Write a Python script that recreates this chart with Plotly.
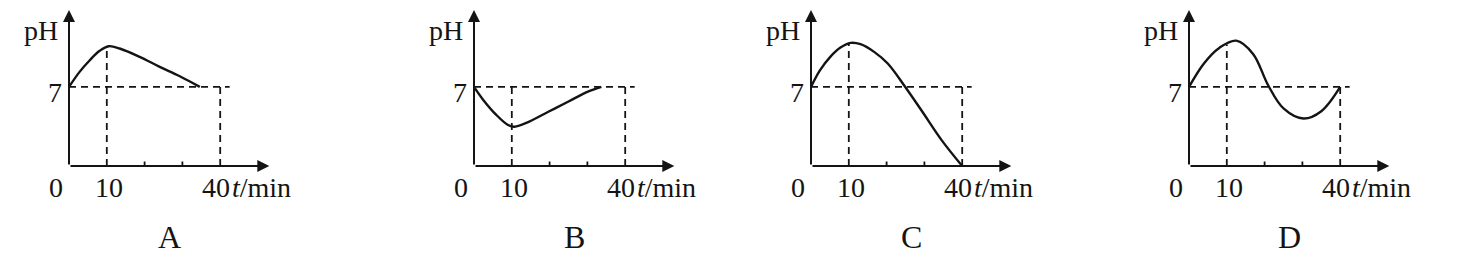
import plotly.graph_objects as go

# ---------------- data ----------------
panel_labels = ["A", "B", "C", "D"]

t_A = [0, 2.8, 5.5, 8.1, 10.5, 13.4, 18.7, 24.0, 29.3, 34.6]
ph_A = [7, 8.33, 9.36, 10.19, 10.6, 10.4, 9.66, 8.77, 7.94, 7.0]

t_B = [0, 2.4, 5.9, 9.0, 10.7, 14.6, 19.8, 25.0, 30.3, 33.7]
ph_B = [7, 5.87, 4.52, 3.63, 3.48, 3.93, 4.82, 5.71, 6.6, 7.0]

t_C = [0, 2.4, 5.1, 7.8, 10.5, 13.1, 16.7, 20.3, 24.8, 29.2, 34.6, 40]
ph_C = [7, 8.48, 9.66, 10.48, 10.9, 10.78, 10.1, 9.07, 7.06, 4.93, 2.27, 0]

t_D = [0, 4.0, 8.0, 12.5, 17.0, 20.9, 25.0, 30.3, 35.0, 40]
ph_D = [7, 9.1, 10.45, 11.09, 9.9, 7.17, 5.1, 4.2, 4.85, 7]

curves_t = [t_A, t_B, t_C, t_D]
curves_ph = [ph_A, ph_B, ph_C, ph_D]

ph_ref = 7                      # horizontal dashed level
t_marks = [10, 40]              # dashed verticals
guide10_top = [10.55, 7, 10.9, 10.75]   # height of dashed line at t=10
tick_vals = [20, 30]            # small ticks
x_tick_labels = ["0", "10", "40"]
y_tick_label = "7"
x_axis_title = "<i>t</i>/min"
y_axis_title = "pH"

# ---------------- layout constants ----------------
W, H = 1458, 255
px_per_min = 3.78
px_per_ph = 11.3
origin_px = [69, 474, 811, 1189]
origin_y_px = 166
t_lo, t_hi = -18, 70
y_lo = -(H - origin_y_px) / px_per_ph
y_hi = origin_y_px / px_per_ph

INK = "#141414"
FONT = "Liberation Serif"

fig = go.Figure()
annotations = []

for i, lab in enumerate(panel_labels):
    n = "" if i == 0 else str(i + 1)
    xa, ya = "x" + n, "y" + n
    start = origin_px[i] + t_lo * px_per_min
    end = start + (t_hi - t_lo) * px_per_min
    fig.update_layout(**{
        "xaxis" + n: dict(domain=[start / W, end / W], range=[t_lo, t_hi],
                          visible=False, fixedrange=True, anchor=ya),
        "yaxis" + n: dict(domain=[0, 1], range=[y_lo, y_hi],
                          visible=False, fixedrange=True, anchor=xa),
    })

    dash = dict(color=INK, width=1.8, dash="7px,5px")
    fig.add_trace(go.Scatter(x=[0, 42.5], y=[ph_ref, ph_ref], mode="lines",
                             line=dash, xaxis=xa, yaxis=ya, showlegend=False,
                             hoverinfo="skip"))
    fig.add_trace(go.Scatter(x=[t_marks[0], t_marks[0]], y=[0, guide10_top[i]],
                             mode="lines", line=dash, xaxis=xa, yaxis=ya,
                             showlegend=False, hoverinfo="skip"))
    fig.add_trace(go.Scatter(x=[t_marks[1], t_marks[1]], y=[0, ph_ref],
                             mode="lines", line=dash, xaxis=xa, yaxis=ya,
                             showlegend=False, hoverinfo="skip"))
    for tv in tick_vals:
        fig.add_trace(go.Scatter(x=[tv, tv], y=[0, 0.4], mode="lines",
                                 line=dict(color=INK, width=1.8), xaxis=xa, yaxis=ya,
                                 showlegend=False, hoverinfo="skip"))
    fig.add_trace(go.Scatter(x=curves_t[i], y=curves_ph[i], mode="lines",
                             line=dict(color=INK, width=2.4, shape="spline", smoothing=1.0),
                             xaxis=xa, yaxis=ya, showlegend=False, hoverinfo="skip"))

    # axes with arrows
    for tip in [(53, 0), (0, 13.8)]:
        annotations.append(dict(x=tip[0], y=tip[1], ax=0, ay=0, xref=xa, yref=ya,
                                axref=xa, ayref=ya, text="", showarrow=True,
                                arrowhead=2, arrowsize=1.2, arrowwidth=2,
                                arrowcolor=INK, standoff=0, startstandoff=0))

    tf = dict(family=FONT, size=28, color=INK)
    annotations.append(dict(x=-7.3, y=12.0, xref=xa, yref=ya, text=y_axis_title,
                            showarrow=False, font=tf, xanchor="center", yanchor="middle"))
    annotations.append(dict(x=-1.2, y=6.5, xref=xa, yref=ya, text=y_tick_label,
                            showarrow=False, font=tf, xanchor="right", yanchor="middle"))
    annotations.append(dict(x=-3.4, y=-1.9, xref=xa, yref=ya, text=x_tick_labels[0],
                            showarrow=False, font=tf, xanchor="center", yanchor="middle"))
    annotations.append(dict(x=10.5, y=-1.9, xref=xa, yref=ya, text=x_tick_labels[1],
                            showarrow=False, font=tf, xanchor="center", yanchor="middle"))
    annotations.append(dict(x=38.8, y=-1.9, xref=xa, yref=ya, text=x_tick_labels[2],
                            showarrow=False, font=tf, xanchor="center", yanchor="middle"))
    annotations.append(dict(x=42.6, y=-1.9, xref=xa, yref=ya, text=x_axis_title,
                            showarrow=False, font=tf, xanchor="left", yanchor="middle"))
    annotations.append(dict(x=26.5, y=-6.3, xref=xa, yref=ya, text=lab,
                            showarrow=False, font=dict(family=FONT, size=32, color=INK),
                            xanchor="center", yanchor="middle"))

fig.update_layout(width=W, height=H, margin=dict(l=0, r=0, t=0, b=0),
                  paper_bgcolor="white", plot_bgcolor="white",
                  annotations=annotations, showlegend=False)

fig.write_html("out.html")
